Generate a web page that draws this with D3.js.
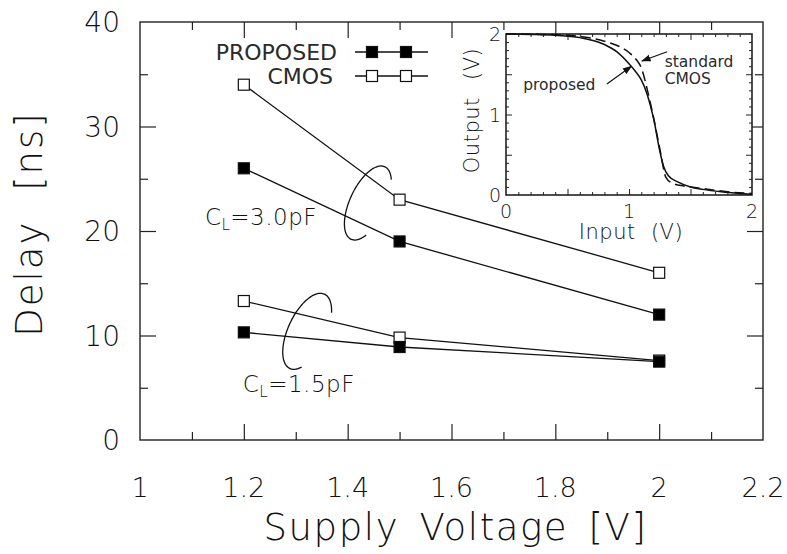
<!DOCTYPE html>
<html>
<head>
<meta charset="utf-8">
<script src="https://cdn.jsdelivr.net/npm/d3@7"></script>
<style>
  body{margin:0;background:#fff;}
  text{font-family:"DejaVu Sans",sans-serif;font-weight:200;fill:#111;}
</style>
</head>
<body>
<div id="container"></div>
<script>
  // delay vs supply voltage
  var voltages = [1.2, 1.5, 2.0];
  var cmos30 = [34, 23, 16];
  var prop30 = [26, 19, 12];
  var cmos15 = [13.3, 9.8, 7.6];
  var prop15 = [10.3, 8.9, 7.5];
  var xTicks = [1, 1.2, 1.4, 1.6, 1.8, 2, 2.2];
  var yTicks = [0, 10, 20, 30, 40];

  // inset: transfer curves
  var vtcInput = [0, 0.2, 0.4, 0.6, 0.8, 0.9, 1.0, 1.05, 1.1, 1.15, 1.2, 1.25, 1.28, 1.32, 1.4, 1.5, 1.6, 1.75, 1.9, 2.0];
  var vtcProposed = [2.0, 1.995, 1.985, 1.955, 1.87, 1.78, 1.63, 1.54, 1.43, 1.24, 0.95, 0.55, 0.36, 0.24, 0.16, 0.10, 0.07, 0.04, 0.02, 0.01];
  var vtcCmosInput = [0, 0.3, 0.6, 0.8, 0.94, 1.0, 1.06, 1.1, 1.15, 1.2, 1.25, 1.3, 1.35, 1.45, 1.6, 1.8, 2.0];
  var vtcCmos = [2.0, 1.995, 1.97, 1.91, 1.83, 1.77, 1.68, 1.58, 1.30, 0.96, 0.58, 0.22, 0.15, 0.11, 0.08, 0.04, 0.02];
  var insetTicks = [0, 1, 2];

  var W = 787, H = 554;
  var margin = {top: 22, right: 24, bottom: 114, left: 140};
  var width = W - margin.left - margin.right,
      height = H - margin.top - margin.bottom;

  var svg = d3.select("#container").append("svg")
      .attr("width", W).attr("height", H);

  var xScale = d3.scaleLinear().domain([1, 2.2]).range([0, width]);
  var yScale = d3.scaleLinear().domain([0, 40]).range([height, 0]);

  var g = svg.append("g").attr("transform", "translate(" + margin.left + "," + margin.top + ")");

  // inward ticks on all four sides
  var xMinor = d3.range(1.1, 2.2, 0.2), yMinor = d3.range(5, 40, 10);
  [[xTicks.slice(1, -1), 16], [xMinor, 8]].forEach(function(p){
    g.append("g").attr("class", "ax").attr("transform", "translate(0," + height + ")")
      .call(d3.axisTop(xScale).tickValues(p[0]).tickSize(p[1]).tickFormat(""));
    g.append("g").attr("class", "ax")
      .call(d3.axisBottom(xScale).tickValues(p[0]).tickSize(p[1]).tickFormat(""));
  });
  [[yTicks.slice(1, -1), 16], [yMinor, 8]].forEach(function(p){
    g.append("g").attr("class", "ax")
      .call(d3.axisRight(yScale).tickValues(p[0]).tickSize(p[1]).tickFormat(""));
    g.append("g").attr("class", "ax").attr("transform", "translate(" + width + ",0)")
      .call(d3.axisLeft(yScale).tickValues(p[0]).tickSize(p[1]).tickFormat(""));
  });
  g.selectAll(".ax .domain").remove();
  g.selectAll(".ax line").attr("stroke", "#222").attr("stroke-width", 1.2);

  g.append("rect").attr("width", width).attr("height", height)
    .attr("fill", "none").attr("stroke", "#222").attr("stroke-width", 1.4);

  // tick labels
  g.selectAll(".xl").data(xTicks).enter().append("text")
    .attr("x", function(d){ return xScale(d); })
    .attr("y", height + 57)
    .attr("text-anchor", "middle").style("font-size", "27px")
    .text(function(d){ return d; });
  g.selectAll(".yl").data(yTicks).enter().append("text")
    .attr("x", -20)
    .attr("y", function(d){ return yScale(d) + 10; })
    .attr("text-anchor", "end").style("font-size", "28px")
    .text(function(d){ return d; });

  g.append("text").attr("x", width / 2 + 4).attr("y", height + 100)
    .attr("text-anchor", "middle").style("font-size", "37px")
    .style("letter-spacing", "1.6px").style("word-spacing", "7px")
    .text("Supply Voltage [V]");
  g.append("text").attr("transform", "translate(-98," + (height / 2 - 7) + ") rotate(-90)")
    .attr("text-anchor", "middle").style("font-size", "37px")
    .style("letter-spacing", "2px").style("word-spacing", "16px")
    .text("Delay [ns]");

  // series
  var series = [
    {vals: cmos30, filled: false}, {vals: prop30, filled: true},
    {vals: cmos15, filled: false}, {vals: prop15, filled: true}
  ];
  var line = d3.line()
    .x(function(d, i){ return xScale(voltages[i]); })
    .y(function(d){ return yScale(d); });
  var ms = 11;
  series.forEach(function(s){
    g.append("path").attr("d", line(s.vals))
      .attr("fill", "none").attr("stroke", "#111").attr("stroke-width", 1.3);
  });
  series.forEach(function(s){
    g.selectAll(null).data(s.vals).enter().append("rect")
      .attr("x", function(d, i){ return xScale(voltages[i]) - ms / 2; })
      .attr("y", function(d){ return yScale(d) - ms / 2; })
      .attr("width", ms).attr("height", ms)
      .attr("fill", s.filled ? "#000" : "#fff")
      .attr("stroke", "#111").attr("stroke-width", 1.2);
  });

  // open ellipse loops (centre in data units)
  var loops = [
    {x: 1.439, y: 22.68, a: 40, b: 18, t0: 0.68, t1: -Math.PI - 0.75},
    {x: 1.322, y: 10.4, a: 41, b: 19, t0: 0.85, t1: -Math.PI - 0.6}
  ];
  function loopPath(cx, cy, l) {
    var phi = -65 * Math.PI / 180;
    var ux = Math.cos(phi), uy = Math.sin(phi), vx = -Math.sin(phi), vy = Math.cos(phi);
    var pts = d3.range(l.t0, l.t1, -0.05).map(function(t){
      return [cx + l.a * Math.cos(t) * ux + l.b * Math.sin(t) * vx,
              cy + l.a * Math.cos(t) * uy + l.b * Math.sin(t) * vy];
    });
    return d3.line().curve(d3.curveCardinal)(pts);
  }
  loops.forEach(function(l){
    g.append("path").attr("d", loopPath(xScale(l.x), yScale(l.y), l))
      .attr("fill", "none").attr("stroke", "#111").attr("stroke-width", 1.3);
  });

  // C_L labels
  var clLabels = [{x: 1.125, y: 20.6, v: "=3.0pF"}, {x: 1.198, y: 4.6, v: "=1.5pF"}];
  clLabels.forEach(function(c){
    var t = g.append("text").attr("x", xScale(c.x)).attr("y", yScale(c.y))
      .style("font-size", "23px").style("letter-spacing", "0.5px");
    t.append("tspan").text("C");
    t.append("tspan").attr("dy", 5).style("font-size", "15px").text("L");
    t.append("tspan").attr("dy", -5).text(c.v);
  });

  // legend
  var legend = [{name: "PROPOSED", filled: true, y: 52, end: 337}, {name: "CMOS", filled: false, y: 76, end: 333}];
  legend.forEach(function(l){
    svg.append("text").attr("x", l.end).attr("y", l.y + 8).attr("text-anchor", "end")
      .style("font-size", "22px").style("font-weight", "400").style("fill", "#2a2a2a").text(l.name);
    svg.append("line").attr("x1", 355).attr("x2", 428).attr("y1", l.y).attr("y2", l.y)
      .attr("stroke", "#111").attr("stroke-width", 1.4);
    [372, 406].forEach(function(px){
      svg.append("rect").attr("x", px - ms / 2).attr("y", l.y - ms / 2)
        .attr("width", ms).attr("height", ms)
        .attr("fill", l.filled ? "#000" : "#fff").attr("stroke", "#111").attr("stroke-width", 1.2);
    });
  });

  // inset
  var inset = {left: 506, top: 34, w: 246, h: 161};
  var ix = d3.scaleLinear().domain([0, 2]).range([0, inset.w]);
  var iy = d3.scaleLinear().domain([0, 2]).range([inset.h, 0]);
  var gi = svg.append("g").attr("transform", "translate(" + inset.left + "," + inset.top + ")");
  gi.append("rect").attr("width", inset.w).attr("height", inset.h)
    .attr("fill", "#fff").attr("stroke", "#222").attr("stroke-width", 1.6);

  var iMinor = d3.range(0.1, 2, 0.1).filter(function(v){ return Math.abs(v * 2 - Math.round(v * 2)) > 0.01; });
  var iMajor = [0.5, 1, 1.5];
  [[iMajor, 6], [iMinor, 3]].forEach(function(p){
    gi.append("g").attr("class", "iax").attr("transform", "translate(0," + inset.h + ")")
      .call(d3.axisTop(ix).tickValues(p[0]).tickSize(p[1]).tickFormat(""));
    gi.append("g").attr("class", "iax")
      .call(d3.axisBottom(ix).tickValues(p[0]).tickSize(p[1]).tickFormat(""));
    gi.append("g").attr("class", "iax")
      .call(d3.axisRight(iy).tickValues(p[0]).tickSize(p[1]).tickFormat(""));
    gi.append("g").attr("class", "iax").attr("transform", "translate(" + inset.w + ",0)")
      .call(d3.axisLeft(iy).tickValues(p[0]).tickSize(p[1]).tickFormat(""));
  });
  gi.selectAll(".iax .domain").remove();
  gi.selectAll(".iax line").attr("stroke", "#222").attr("stroke-width", 1);

  gi.selectAll(".ixl").data(insetTicks).enter().append("text")
    .attr("x", function(d){ return ix(d); }).attr("y", inset.h + 23)
    .attr("text-anchor", "middle").style("font-size", "19px").text(function(d){ return d; });
  gi.selectAll(".iyl").data(insetTicks).enter().append("text")
    .attr("x", -5).attr("y", function(d){ return iy(d) + 7; })
    .attr("text-anchor", "end").style("font-size", "19px").text(function(d){ return d; });
  gi.append("text").attr("x", ix(1) + 2).attr("y", inset.h + 44).attr("text-anchor", "middle")
    .style("font-size", "21px").style("letter-spacing", "0.5px").style("word-spacing", "8px").text("Input (V)");
  gi.append("text").attr("transform", "translate(-27," + (iy(1) - 4) + ") rotate(-90)")
    .attr("text-anchor", "middle").style("font-size", "21px").style("letter-spacing", "0.5px")
    .style("word-spacing", "10px").text("Output (V)");

  var vtcLine = d3.line().curve(d3.curveMonotoneX)
    .x(function(d){ return ix(d[0]); }).y(function(d){ return iy(d[1]); });
  gi.append("path").attr("d", vtcLine(d3.zip(vtcCmosInput, vtcCmos)))
    .attr("fill", "none").attr("stroke", "#111").attr("stroke-width", 1.5)
    .attr("stroke-dasharray", "10,5");
  gi.append("path").attr("d", vtcLine(d3.zip(vtcInput, vtcProposed)))
    .attr("fill", "none").attr("stroke", "#111").attr("stroke-width", 1.5);

  svg.append("defs").append("marker").attr("id", "ah")
    .attr("viewBox", "0 0 10 10").attr("refX", 9).attr("refY", 5)
    .attr("markerWidth", 8).attr("markerHeight", 8).attr("orient", "auto")
    .append("path").attr("d", "M0,1.5L10,5L0,8.5Z").attr("fill", "#111");

  var notes = [
    {text: ["standard", "CMOS"], x: 1.29, y: 1.59, from: [1.31, 1.78], to: [1.105, 1.665]},
    {text: ["proposed"], x: 0.14, y: 1.30, from: [0.82, 1.38], to: [1.02, 1.60]}
  ];
  notes.forEach(function(n){
    n.text.forEach(function(s, i){
      gi.append("text").attr("x", ix(n.x)).attr("y", iy(n.y) + i * 17)
        .style("font-size", "15.5px").style("font-weight", "400").style("fill", "#2a2a2a").text(s);
    });
    gi.append("line").attr("x1", ix(n.from[0])).attr("y1", iy(n.from[1]))
      .attr("x2", ix(n.to[0])).attr("y2", iy(n.to[1]))
      .attr("stroke", "#111").attr("stroke-width", 1.2).attr("marker-end", "url(#ah)");
  });
</script>
</body>
</html>
